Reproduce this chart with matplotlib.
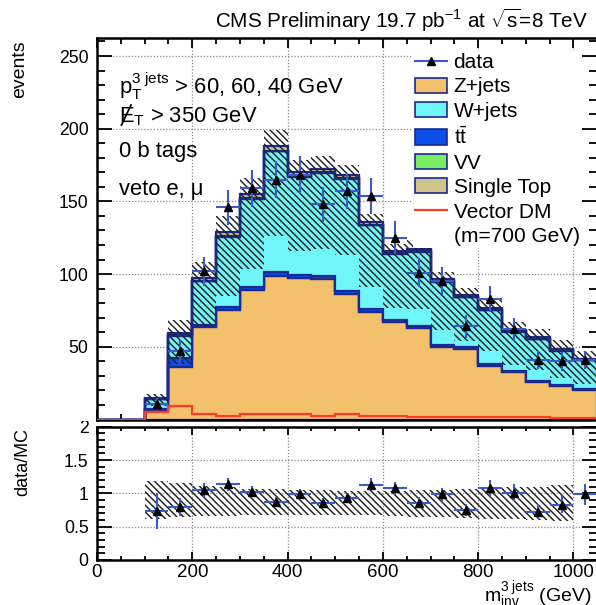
import numpy as np
import matplotlib
matplotlib.use("Agg")
import matplotlib.pyplot as plt
from matplotlib.lines import Line2D
from matplotlib.patches import Patch, Rectangle
from matplotlib.ticker import MultipleLocator, FuncFormatter

plt.rcParams["font.family"] = ["Liberation Sans", "DejaVu Sans"]
plt.rcParams["mathtext.fontset"] = "custom"
plt.rcParams["mathtext.rm"] = "Liberation Sans"
plt.rcParams["mathtext.it"] = "Liberation Sans:italic"
plt.rcParams["mathtext.bf"] = "Liberation Sans:bold"
plt.rcParams["mathtext.default"] = "regular"
plt.rcParams["hatch.linewidth"] = 1.05

# ---- histogram content, 50 GeV bins from 0 to 1050 GeV ----
bin_edges = np.arange(0, 1100, 50)

z_jets = [0, 0, 6.1, 35.9, 63.5, 75.3, 89.0, 98.7, 97.1, 96.5, 86.3,
          74.1, 67.0, 62.7, 49.8, 48.5, 37.0, 32.5, 25.5, 23.0, 20.5]
ttbar = [0, 0, 1.2, 6.5, 1.5, 2.0, 2.0, 2.5, 2.0, 2.0, 2.0,
         1.8, 1.5, 1.5, 1.3, 1.2, 1.2, 1.0, 1.0, 0.8, 0.8]
w_jets = [0, 0, 6.7, 14.9, 30.0, 48.4, 61.0, 83.3, 67.9, 71.0, 77.2,
          57.6, 45.3, 51.1, 43.6, 34.4, 36.8, 26.8, 28.7, 23.4, 19.4]
diboson = [0, 0, 0.2, 0.5, 0.5, 0.5, 0.5, 0.5, 0.5, 0.5, 0.5,
           0.5, 0.5, 0.5, 0.5, 0.5, 0.5, 0.5, 0.5, 0.5, 0.5]
single_top = [0, 0, 0.8, 1.5, 2.0, 2.5, 2.5, 3.0, 2.5, 2.5, 2.5,
              2.0, 1.5, 1.5, 1.2, 1.0, 1.0, 0.8, 0.8, 0.6, 0.5]
signal_dm700 = [0, 0, 5.5, 9.0, 3.8, 2.7, 3.8, 3.8, 3.5, 2.6, 3.8,
                2.4, 2.2, 2.0, 2.0, 1.8, 1.6, 1.5, 1.4, 1.3, 1.2]

data = [0, 0, 11, 47, 102, 146, 159, 165, 168, 148, 157,
        154, 125, 101, 95, 64, 83, 62, 41, 40, 41]
data_err = [0, 0, 4.0, 8.0, 10.1, 12.1, 12.6, 12.8, 13.0, 12.2, 12.5,
            12.4, 11.2, 10.0, 9.7, 8.0, 9.1, 7.9, 6.4, 6.3, 6.4]

# relative systematic band (lower / upper edge relative to total MC)
band_lo = [1, 1, 0.62, 0.64, 0.66, 0.66, 0.67, 0.67, 0.68, 0.68, 0.67,
           0.67, 0.66, 0.65, 0.64, 0.63, 0.62, 0.61, 0.60, 0.59, 0.59]
band_hi = [1, 1, 1.18, 1.15, 1.11, 1.09, 1.07, 1.06, 1.05, 1.05, 1.04,
           1.04, 1.04, 1.05, 1.05, 1.06, 1.07, 1.09, 1.10, 1.13, 1.13]

labels = ["data", "Z+jets", "W+jets", r"$t\bar{t}$", "VV", "Single Top",
          "Vector DM", "(m=700 GeV)"]

# ---- styles ----
c_z = "#f3c06b"
c_w = "#70f5f8"
c_tt = "#0b4ee8"
c_vv = "#78ec62"
c_st = "#cfc48a"
c_line = "#1a2a90"
c_sig = "#ff3a28"
c_err = "#3a5bc8"
c_hatch = "#222222"
HATCH = "\\\\\\\\\\"

W, H = 596, 605
def fx(px):
    return px / W
def fy(py):
    return 1 - py / H

fig = plt.figure(figsize=(W / 100, H / 100), dpi=100)
ax_w = (573.5 - 97) / 1000 * 1050 / W
ax = fig.add_axes([fx(97), fy(419.5), ax_w, (419.5 - 38) / H], zorder=2)
axr = fig.add_axes([fx(97), fy(560), ax_w, (560 - 426.7) / H], zorder=0)

edges = bin_edges
comps = [(z_jets, c_z), (ttbar, c_tt), (w_jets, c_w), (diboson, c_vv), (single_top, c_st)]
base = np.zeros(len(z_jets))
for vals, col in comps:
    top = base + np.asarray(vals)
    ax.stairs(top, edges, baseline=base.copy(), fill=True, facecolor=col,
              edgecolor=c_line, linewidth=1.6, zorder=1)
    base = top
total = base

ax.stairs(signal_dm700, edges, color=c_sig, linewidth=1.6, zorder=3)

lo = total * np.asarray(band_lo)
hi = total * np.asarray(band_hi)
ax.stairs(hi, edges, baseline=lo, fill=True, facecolor="none",
          edgecolor=c_hatch, hatch=HATCH, linewidth=0, zorder=2)

centers = 0.5 * (edges[:-1] + edges[1:])
d = np.asarray(data, float)
de = np.asarray(data_err, float)
m = d > 0
ax.errorbar(centers[m], d[m], yerr=de[m], xerr=25, fmt="^", color="k",
            ms=6, ecolor=c_err, elinewidth=1.5, capsize=0, zorder=5)

ax.set_xlim(0, 1050)
ax.set_ylim(0, 262.4)

# ---- ratio panel ----
sel = slice(2, 20)
axr.stairs(np.asarray(band_hi)[sel], edges[2:21], baseline=np.asarray(band_lo)[sel],
           fill=True, facecolor="none", edgecolor=c_hatch, hatch=HATCH,
           linewidth=0, zorder=2)
ratio = d[m] / total[m]
ratio_err = de[m] / total[m]
axr.errorbar(centers[m], ratio, yerr=ratio_err, xerr=25, fmt="^", color="k",
             ms=6, ecolor=c_err, elinewidth=1.5, capsize=0, zorder=5)
axr.set_xlim(0, 1050)
axr.set_ylim(0, 2)

# ---- axes styling ----
for a in (ax, axr):
    a.set_axisbelow(True)
    a.grid(True, which="major", linestyle=(0, (1, 1.5)), color="#8a8a8a", linewidth=0.9)
    for s in a.spines.values():
        s.set_linewidth(1.8)
    a.xaxis.set_major_locator(MultipleLocator(200))
    a.xaxis.set_minor_locator(MultipleLocator(50))
    a.tick_params(which="both", direction="in", top=True, right=True, width=1.3)

ax.yaxis.set_major_locator(MultipleLocator(50))
ax.yaxis.set_minor_locator(MultipleLocator(10))
ax.tick_params(axis="y", which="major", length=11, labelsize=12.7, pad=6)
ax.tick_params(axis="y", which="minor", length=5.5)
ax.tick_params(axis="x", which="major", length=7.5, labelbottom=False)
ax.tick_params(axis="x", which="minor", length=4)
ax.yaxis.set_major_formatter(FuncFormatter(lambda v, p: "" if v == 0 else f"{v:g}"))

axr.yaxis.set_major_locator(MultipleLocator(0.5))
axr.yaxis.set_minor_locator(MultipleLocator(0.1))
axr.tick_params(axis="y", which="major", length=11, labelsize=12.7, pad=6)
axr.tick_params(axis="y", which="minor", length=5.5)
axr.tick_params(axis="x", which="major", length=6, labelsize=13.5, pad=3)
axr.tick_params(axis="x", which="minor", length=3)
axr.yaxis.set_major_formatter(FuncFormatter(lambda v, p: f"{v:g}"))

# white strip between the pads hides the top of the ratio-axis "2"
fig.add_artist(Rectangle((0, fy(421)), fx(95), 10 / H, transform=fig.transFigure,
                         facecolor="white", edgecolor="none", zorder=1))

# ---- legend ----
handles = [
    Line2D([], [], color=c_err, lw=1.5, marker="^", mfc="k", mec="k", ms=6),
    Patch(facecolor=c_z, edgecolor=c_line, linewidth=1.2),
    Patch(facecolor=c_w, edgecolor=c_line, linewidth=1.2),
    Patch(facecolor=c_tt, edgecolor=c_line, linewidth=1.2),
    Patch(facecolor=c_vv, edgecolor=c_line, linewidth=1.2),
    Patch(facecolor=c_st, edgecolor=c_line, linewidth=1.2),
    Line2D([], [], color=c_sig, lw=1.6),
    Line2D([], [], color="none"),
]
leg = ax.legend(handles, labels, loc="upper left",
                bbox_to_anchor=(fx(413), fy(51)), bbox_transform=fig.transFigure,
                fontsize=15, handlelength=1.55, handleheight=0.75, handletextpad=0.3,
                labelspacing=0.26, borderpad=0.1, borderaxespad=0, frameon=True,
                fancybox=False, facecolor="white", edgecolor="none", framealpha=1)
leg.set_zorder(6)

# ---- texts ----
fig.text(fx(587.5), fy(28.3), r"CMS Preliminary 19.7 pb$^{-1}$ at $\sqrt{s}$=8 TeV",
         fontsize=14.9, ha="right", va="baseline")
fs = 15.8
fig.text(fx(119), fy(94), r"$p_T^{3\ jets}$ > 60, 60, 40 GeV", fontsize=fs, va="baseline")
fig.text(fx(119), fy(122.7), r"$E_T$ > 350 GeV", fontsize=fs, va="baseline")
# slash through the E of the missing-energy symbol
fig.add_artist(Line2D([fx(121.5), fx(131)], [fy(125), fy(105)], transform=fig.transFigure,
                      color="black", linewidth=1.3, zorder=7))
fig.text(fx(119), fy(156.7), "0 b tags", fontsize=fs, va="baseline")
fig.text(fx(119), fy(195), "veto e, μ", fontsize=fs, va="baseline")

fig.text(fx(20), fy(40), "events", rotation=90, ha="center", va="top", fontsize=14)
fig.text(fx(23), fy(428), "data/MC", rotation=90, ha="center", va="top", fontsize=13)
fig.text(fx(591.5), fy(602.5), r"$m_{inv}^{3\ jets}$ (GeV)", ha="right", va="baseline", fontsize=14)

fig.savefig("out.png", dpi=100)
